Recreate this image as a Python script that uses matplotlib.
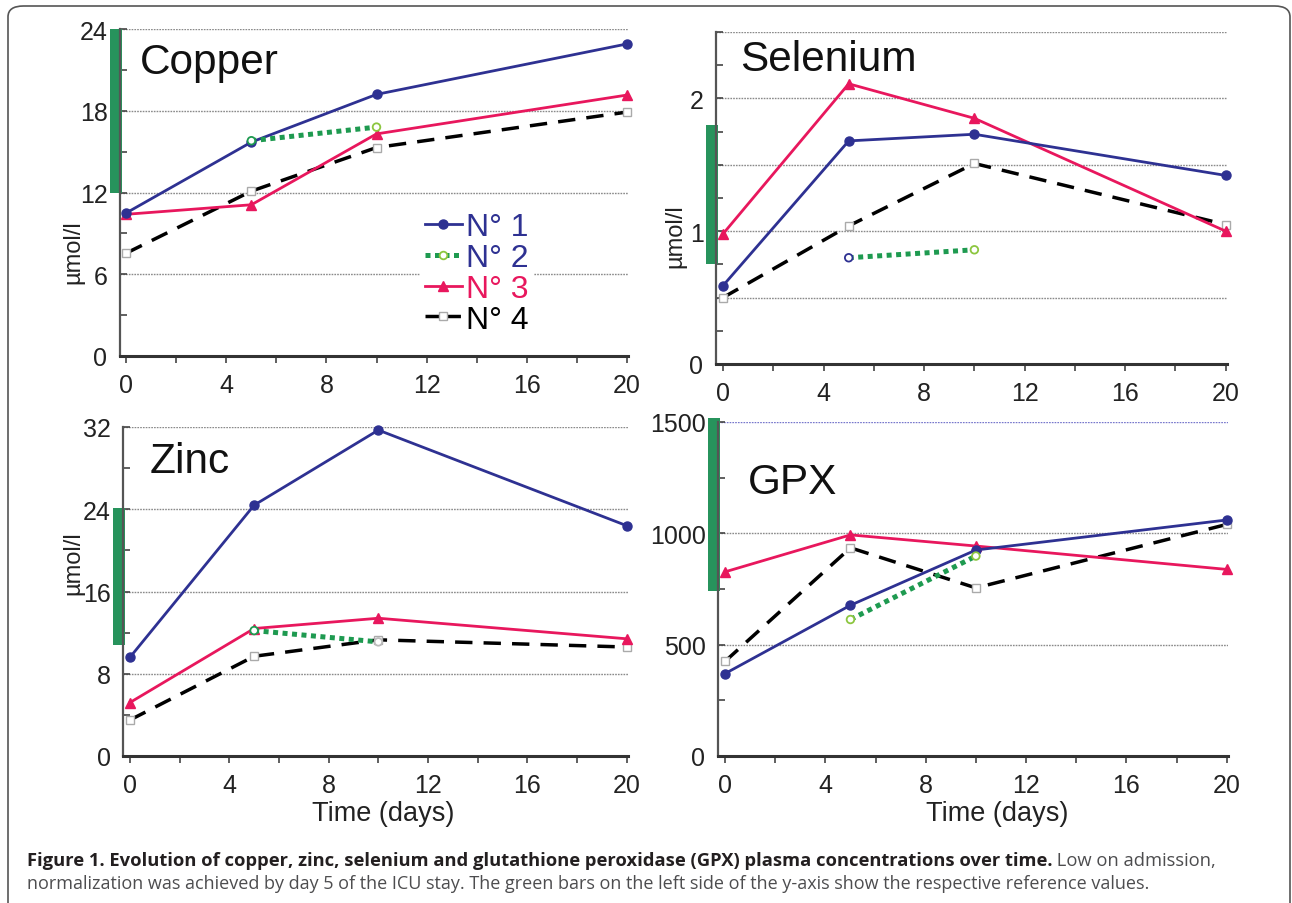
import matplotlib
matplotlib.use('Agg')
import matplotlib.pyplot as plt
from matplotlib.patches import Rectangle, FancyBboxPatch
from matplotlib.lines import Line2D
import matplotlib.transforms as mtransforms

# ---------------- data ----------------
days = [0, 5, 10, 20]
days_p2 = [5, 10]

copper_p1 = [10.5, 15.7, 19.2, 22.9]
copper_p2 = [15.8, 16.8]
copper_p3 = [10.4, 11.1, 16.3, 19.15]
copper_p4 = [7.55, 12.1, 15.3, 17.9]
copper_ref = [12, 24]

selenium_p1 = [0.59, 1.68, 1.73, 1.42]
selenium_p2 = [0.80, 0.86]
selenium_p3 = [0.98, 2.11, 1.85, 1.00]
selenium_p4 = [0.50, 1.04, 1.51, 1.05]
selenium_ref = [0.75, 1.80]

zinc_p1 = [9.6, 24.4, 31.7, 22.4]
zinc_p2 = [12.2, 11.1]
zinc_p3 = [5.2, 12.4, 13.4, 11.4]
zinc_p4 = [3.5, 9.7, 11.3, 10.6]
zinc_ref = [10.8, 24.1]

gpx_p1 = [370, 677, 925, 1060]
gpx_p2 = [613, 898]
gpx_p3 = [827, 993, 943, 838]
gpx_p4 = [425, 935, 755, 1040]
gpx_ref = [740, 1520]

legend_labels = ['N° 1', 'N° 2', 'N° 3', 'N° 4']
panel_titles = ['Copper', 'Selenium', 'Zinc', 'GPX']
x_label = 'Time (days)'
y_label = 'µmol/l'
caption_bold = ('Figure 1. Evolution of copper, zinc, selenium and glutathione peroxidase '
                '(GPX) plasma concentrations over time.')
caption_rest1 = ' Low on admission,'
caption_line2 = ('normalization was achieved by day 5 of the ICU stay. The green bars on the '
                 'left side of the y-axis show the respective reference values.')

# ---------------- style ----------------
BLUE = '#2e3192'
PINK = '#e8175d'
DGREEN = '#1e9a50'
LGREEN = '#8cc63f'
BAR = '#27935c'
SANS = ['Liberation Sans', 'DejaVu Sans']
plt.rcParams['font.family'] = SANS

W, H = 1292, 904
fig = plt.figure(figsize=(W / 100, H / 100), dpi=100)


def add_ax(left, top, right, bottom):
    return fig.add_axes([left / W, 1 - bottom / H, (right - left) / W, (bottom - top) / H])


def ftext(x, y, s, **kw):
    return fig.text(x / W, 1 - y / H, s, **kw)


panels = [
    dict(rect=(120, 30, 628, 357), xl=-0.25, ylim=(0, 24), yt=[0, 6, 12, 18, 24],
         grid=[6, 12, 18, 24], minor=[3, 9, 15, 21],
         s=(copper_p1, copper_p2, copper_p3, copper_p4), ref=copper_ref,
         p2ec=[DGREEN, LGREEN]),
    dict(rect=(716, 33, 1227, 365), xl=-0.28, ylim=(0, 2.5), yt=[0, 1, 2],
         grid=[0.5, 1, 1.5, 2, 2.5], minor=[0.25, 0.5, 0.75, 1.25, 1.5, 1.75, 2.25, 2.5],
         s=(selenium_p1, selenium_p2, selenium_p3, selenium_p4), ref=selenium_ref,
         p2ec=[BLUE, LGREEN]),
    dict(rect=(123, 428, 628, 757), xl=-0.28, ylim=(0, 32), yt=[0, 8, 16, 24, 32],
         grid=[8, 16, 24, 32], minor=[4, 12, 20, 28],
         s=(zinc_p1, zinc_p2, zinc_p3, zinc_p4), ref=zinc_ref,
         p2ec=[DGREEN, '#bbbbbb']),
    dict(rect=(718, 423, 1228, 757), xl=-0.28, ylim=(0, 1500), yt=[0, 500, 1000, 1500],
         grid=[500, 1000, 1500], minor=[250, 750, 1250],
         s=(gpx_p1, gpx_p2, gpx_p3, gpx_p4), ref=gpx_ref,
         p2ec=[LGREEN, LGREEN]),
]

axes = []
for i, p in enumerate(panels):
    l, t, r, b = p['rect']
    ax = add_ax(l, t, r, b)
    axes.append(ax)
    ax.set_xlim(p['xl'], 20.05)
    ax.set_ylim(*p['ylim'])
    for sp in ['top', 'right']:
        ax.spines[sp].set_visible(False)
    ax.spines['left'].set_color('#555555')
    ax.spines['left'].set_linewidth(1.6)
    ax.spines['bottom'].set_color('#333333')
    ax.spines['bottom'].set_linewidth(2.2)
    ax.set_xticks([0, 4, 8, 12, 16, 20])
    ax.set_xticks([2, 6, 10, 14, 18], minor=True)
    ax.set_yticks(p['yt'])
    ax.set_yticks(p['minor'], minor=True)
    ax.tick_params(axis='x', which='both', direction='out', length=5, width=1.2,
                   color='#444444', labelsize=18, pad=7, labelcolor='#222222')
    ax.tick_params(axis='y', which='both', direction='in', length=5, width=1.2,
                   color='#444444', labelsize=18, pad=9, labelcolor='#222222')
    for g in p['grid']:
        col = '#7777cc' if (i == 3 and g == 1500) else '#8a8a8a'
        ax.axhline(g, color=col, lw=1.0, dashes=(1.2, 0.8), zorder=1)

    p1, p2, p3, p4 = p['s']
    ax.plot(days, p4, color='black', lw=2.5, dashes=(5, 3.2), marker='s', ms=6,
            mfc='white', mec='#aaaaaa', mew=1.0, zorder=3, clip_on=False)
    ax.plot(days, p3, color=PINK, lw=2.0, marker='^', ms=6.5, zorder=4, clip_on=False)
    ax.plot(days, p1, color=BLUE, lw=2.0, marker='o', ms=6.5, zorder=5, clip_on=False)
    ax.plot(days_p2, p2, color=DGREEN, lw=3.6, dashes=(1, 0.9), zorder=6, clip_on=False)
    ax.scatter(days_p2, p2, marker='o', s=30, facecolors='white', edgecolors=p['p2ec'],
               linewidths=1.3, zorder=7, clip_on=False)

    # reference range bar on the left of the y-axis
    ax_w_px = (r - l)
    trans = mtransforms.blended_transform_factory(ax.transAxes, ax.transData)
    lo, hi = p['ref']
    ax.add_patch(Rectangle((-10 / ax_w_px, lo), 12 / ax_w_px, hi - lo, transform=trans,
                           facecolor=BAR, edgecolor='none', clip_on=False, zorder=2))

# titles
ftext(140, 63, panel_titles[0], fontsize=30.5, va='center', ha='left', color='#111111')
ftext(740, 60, panel_titles[1], fontsize=30.5, va='center', ha='left', color='#111111')
ftext(150, 462, panel_titles[2], fontsize=30.5, va='center', ha='left', color='#111111')
ftext(748, 483, panel_titles[3], fontsize=30.5, va='center', ha='left', color='#111111')

# y labels
ftext(73, 252, y_label, fontsize=17, rotation=90, va='center', ha='center', color='#222222')
ftext(675, 236, y_label, fontsize=17, rotation=90, va='center', ha='center', color='#222222')
ftext(73, 563, y_label, fontsize=17, rotation=90, va='center', ha='center', color='#222222')

# x labels
ftext(383, 814, x_label, fontsize=19.5, va='center', ha='center', color='#222222')
ftext(997, 814, x_label, fontsize=19.5, va='center', ha='center', color='#222222')

# legend
handles = [
    Line2D([], [], color=BLUE, lw=2.0, marker='o', ms=6.5),
    Line2D([], [], color=DGREEN, lw=3.6, dashes=(1, 0.9), marker='o', ms=5.5,
           mfc='white', mec=LGREEN, mew=1.3),
    Line2D([], [], color=PINK, lw=2.0, marker='^', ms=6.5),
    Line2D([], [], color='black', lw=2.5, dashes=(4, 2.2), marker='s', ms=6,
           mfc='white', mec='#aaaaaa', mew=1.0),
]
leg = axes[0].legend(handles, legend_labels, loc='upper left',
                     bbox_to_anchor=(420 / W, 1 - 208 / H), bbox_transform=fig.transFigure,
                     fontsize=23, handlelength=1.15, handletextpad=0.15, labelspacing=0.03,
                     borderpad=0.15, borderaxespad=0, frameon=True, facecolor='white',
                     edgecolor='none', framealpha=1,
                     labelcolor=[BLUE, BLUE, PINK, 'black'])
leg.set_zorder(10)

# border (rounded frame)
frame = FancyBboxPatch((8 / W, -0.02), (1290 - 8) / W, 1 - 7 / H + 0.02,
                       boxstyle='round,pad=0,rounding_size=0.012',
                       transform=fig.transFigure, facecolor='none',
                       edgecolor='#555555', linewidth=1.2, zorder=-5)
fig.patches.append(frame)

# caption
cap_font = ['Open Sans', 'DejaVu Sans']
t_bold = ftext(27, 866, caption_bold, fontsize=11, fontweight='bold', family=cap_font,
               va='baseline', ha='left', color='#231f20')
t_rest = ftext(0, 866, caption_rest1, fontsize=11, family=cap_font, va='baseline',
               ha='left', color='#4d4d4f')
t_l2 = ftext(27, 889, caption_line2, fontsize=11, family=cap_font, va='baseline',
             ha='left', color='#4d4d4f')

fig.canvas.draw()
ren = fig.canvas.get_renderer()
wb = t_bold.get_window_extent(ren).width
wr = t_rest.get_window_extent(ren).width
scale1 = (1213 - 27) / (wb + wr)
t_bold.set_fontsize(11 * scale1)
t_rest.set_fontsize(11 * scale1)
w2 = t_l2.get_window_extent(ren).width
t_l2.set_fontsize(11 * (1158 - 27) / w2)
fig.canvas.draw()
wb = t_bold.get_window_extent(ren).width
t_rest.set_position(((27 + wb) / W, 1 - 866 / H))

fig.savefig('out.png', dpi=100)
